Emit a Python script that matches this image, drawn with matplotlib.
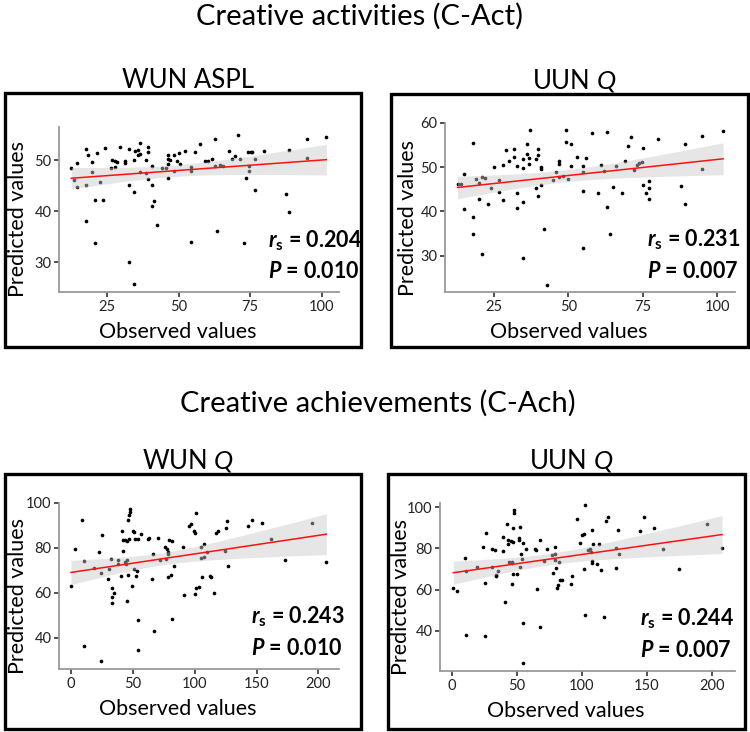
import numpy as np
import matplotlib
matplotlib.use('Agg')
import matplotlib.pyplot as plt
from matplotlib.patches import Rectangle

plt.rcParams['font.family'] = ['Lato', 'DejaVu Sans']
plt.rcParams['mathtext.fontset'] = 'custom'
plt.rcParams['mathtext.rm'] = 'Lato'
plt.rcParams['mathtext.it'] = 'Lato:italic'
plt.rcParams['mathtext.bf'] = 'Lato:bold'
plt.rcParams['mathtext.bfit'] = 'Lato:italic:bold'

# ---- data ----
# Creative activities, WUN ASPL
act_wun_x = [12.6, 13.6, 14.7, 14.7, 17.6, 18.5, 19.7, 19.7, 17.6, 17.6, 20.7, 20.7, 21.6, 22.6, 23.6,
             24.5, 26.5, 26.7, 27.7, 28.5, 27.7, 29.7, 31.5, 31.5, 32.6, 32.6, 32.6, 34.4, 34.4, 34.4,
             34.7, 35.8, 35.8, 36.7, 36.7, 36.7, 38.7, 38.5, 39.5, 39.5, 39.5, 40.6, 40.6, 40.6, 41.4,
             42.6, 44.4, 45.5, 46.5, 46.5, 46.5, 46.5, 47.2, 48.4, 48.5, 49.4, 50.3, 50.6, 52.3, 54.5,
             54.5, 54.5, 55.6, 57.4, 59.3, 60.2, 61.6, 62.6, 62.6, 63.5, 64.4, 65.5, 67.6, 68.7, 69.7,
             70.6, 71.6, 72.7, 73.6, 74.4, 75.2, 75.8, 74.7, 74.7, 76.6, 76.6, 79.7, 87.6, 88.6, 88.6,
             94.7, 94.7, 101.6]
act_wun_y = [48.5, 46.1, 49.5, 44.7, 52.2, 51.1, 49.7, 47.7, 45.2, 38.1, 42.2, 33.8, 51.5, 45.8, 42.2,
             52.4, 48.4, 50.0, 49.8, 49.7, 48.7, 52.6, 49.8, 49.5, 52.2, 45.2, 30.1, 50.0, 43.8, 25.7,
             51.8, 51.9, 51.0, 53.3, 51.2, 47.7, 50.1, 47.5, 52.6, 51.6, 46.4, 48.8, 45.1, 41.1, 42.1,
             37.4, 48.4, 48.5, 51.1, 50.3, 49.3, 46.5, 50.0, 51.1, 47.9, 49.8, 51.4, 49.2, 51.8, 48.6,
             47.9, 33.9, 51.6, 53.2, 49.9, 49.8, 50.3, 54.2, 48.8, 36.1, 49.0, 48.8, 51.8, 50.2, 50.8,
             55.0, 50.3, 33.8, 46.6, 51.6, 51.6, 51.6, 48.8, 47.9, 50.3, 44.1, 51.8, 43.3, 52.0, 39.8,
             54.2, 50.5, 54.6]

# Creative activities, UUN Q
act_uun_x = [12.8, 13.9, 15.0, 15.0, 18.1, 18.1, 18.1, 19.1, 20.1, 20.1, 21.1, 22.0, 21.1, 23.1, 24.0,
             25.0, 26.9, 26.9, 28.0, 28.0, 29.0, 30.0, 31.9, 31.9, 32.9, 32.9, 32.9, 34.9, 34.9, 34.9,
             34.9, 36.0, 36.0, 36.9, 36.9, 37.1, 39.0, 39.0, 39.9, 39.9, 40.0, 40.9, 40.9, 40.9, 41.9,
             43.0, 45.0, 46.0, 46.9, 46.9, 46.9, 48.1, 49.1, 49.1, 50.0, 51.0, 51.0, 53.0, 55.0, 55.0,
             55.0, 55.0, 56.0, 57.9, 59.9, 60.9, 61.9, 62.9, 62.9, 63.9, 64.9, 66.0, 68.0, 69.0, 70.0,
             71.0, 72.0, 73.0, 73.9, 74.8, 75.1, 75.1, 76.1, 77.1, 77.1, 77.1, 80.1, 88.0, 89.1, 89.1,
             95.0, 95.0, 102.0]
act_uun_y = [46.2, 46.2, 48.4, 40.6, 55.5, 38.8, 34.8, 47.4, 46.4, 42.8, 47.9, 47.5, 30.4, 41.6, 45.2,
             50.0, 47.2, 44.5, 50.6, 42.5, 54.0, 51.5, 54.2, 52.4, 50.2, 44.1, 40.8, 49.8, 51.9, 42.2,
             29.4, 55.3, 52.9, 52.1, 50.7, 58.5, 51.9, 45.2, 54.2, 52.8, 43.4, 50.0, 49.7, 46.0, 36.0,
             23.3, 47.2, 49.0, 51.5, 50.8, 47.8, 48.1, 58.5, 55.6, 47.3, 55.2, 50.2, 52.3, 50.2, 48.9,
             44.7, 31.7, 52.1, 57.7, 44.1, 50.6, 49.2, 58.0, 41.1, 34.9, 45.5, 50.3, 44.1, 51.5, 54.7,
             56.8, 49.3, 50.6, 50.9, 51.2, 54.4, 45.9, 44.1, 46.8, 45.4, 42.8, 56.4, 45.8, 55.2, 41.7,
             57.0, 49.6, 58.3]

# Creative achievements, WUN Q
ach_wun_x = [0.0, 3.2, 9.2, 10.2, 10.2, 18.3, 22.9, 24.3, 24.3, 25.3, 29.9, 30.5, 32.3, 33.2, 33.2,
             33.4, 34.5, 38.3, 38.3, 40.2, 41.2, 42.0, 42.3, 43.4, 43.9, 44.5, 45.0, 45.0, 45.3, 45.8,
             46.4, 46.9, 47.4, 47.4, 46.9, 49.3, 49.9, 51.2, 51.5, 51.2, 52.3, 53.1, 54.2, 54.2, 54.2,
             56.3, 62.5, 63.3, 65.2, 66.3, 67.1, 70.4, 72.2, 75.7, 77.1, 77.6, 78.2, 78.4, 78.7, 79.5,
             80.6, 81.4, 81.4, 83.0, 90.3, 91.1, 95.1, 97.0, 99.2, 100.3, 100.3, 101.3, 101.3, 103.2, 105.1,
             105.1, 106.2, 107.3, 107.5, 110.2, 112.7, 113.5, 115.4, 117.0, 118.9, 125.1, 126.1, 124.8, 127.2, 143.1,
             146.4, 154.4, 161.5, 173.0, 195.1, 206.5]
ach_wun_y = [62.9, 79.6, 92.3, 74.1, 36.3, 71.1, 78.1, 68.9, 29.7, 85.7, 66.0, 70.7, 75.0, 62.0, 57.9,
             55.5, 59.8, 74.4, 73.0, 67.5, 87.3, 78.7, 83.6, 73.5, 83.3, 72.9, 74.7, 82.9, 56.4, 92.3,
             67.7, 94.5, 97.5, 96.1, 84.1, 62.9, 87.6, 87.0, 84.1, 70.7, 67.5, 69.9, 84.1, 47.9, 34.5,
             86.3, 84.1, 84.5, 66.2, 77.2, 43.0, 84.4, 74.4, 80.6, 75.1, 79.6, 78.3, 77.2, 67.1, 83.6,
             68.0, 82.9, 48.3, 71.9, 80.6, 59.2, 89.6, 90.8, 87.3, 86.6, 59.3, 95.5, 62.2, 62.5, 80.3,
             75.4, 66.9, 81.8, 75.9, 78.1, 67.5, 66.9, 59.8, 86.7, 87.6, 89.0, 91.8, 78.6, 72.0, 89.6,
             92.3, 91.1, 84.1, 74.7, 90.9, 73.9]

# Creative achievements, UUN Q
ach_uun_x = [1.0, 4.1, 10.0, 11.1, 11.1, 19.0, 24.2, 25.2, 25.2, 26.2, 31.1, 31.1, 33.2, 34.2, 34.2,
             35.2, 39.1, 39.1, 41.1, 42.2, 43.2, 43.2, 44.2, 45.8, 45.2, 46.0, 46.3, 47.0, 47.0, 47.0,
             48.1, 48.1, 50.1, 51.2, 51.9, 52.2, 52.2, 53.0, 54.0, 55.0, 55.0, 55.0, 57.1, 63.8, 65.0,
             65.8, 67.4, 68.1, 71.0, 73.5, 77.1, 78.1, 79.2, 79.2, 79.2, 79.7, 80.5, 82.0, 82.3, 83.0,
             84.6, 91.3, 92.5, 96.4, 98.2, 100.0, 101.3, 101.5, 102.6, 102.6, 104.4, 105.9, 106.9, 107.5, 107.5,
             108.2, 108.7, 111.3, 113.1, 114.4, 116.7, 118.3, 120.3, 126.0, 126.2, 127.5, 128.5, 144.7, 147.8, 155.5,
             162.5, 174.6, 196.7, 208.0]
ach_uun_y = [60.8, 59.2, 75.5, 69.0, 38.2, 71.1, 80.6, 63.4, 37.6, 87.4, 79.5, 70.8, 79.0, 66.9, 66.5,
             69.2, 78.7, 85.5, 54.0, 91.9, 83.9, 81.9, 73.4, 72.9, 83.5, 62.9, 73.4, 67.7, 89.8, 83.1,
             98.4, 97.1, 67.7, 85.2, 83.9, 90.3, 71.0, 77.4, 75.0, 82.6, 44.0, 24.2, 79.8, 79.8, 79.4,
             60.2, 84.2, 41.9, 73.9, 79.5, 76.6, 68.1, 80.6, 77.4, 74.5, 70.6, 61.0, 62.1, 73.2, 64.5,
             64.5, 62.9, 66.5, 94.4, 82.6, 86.6, 87.1, 69.8, 101.1, 47.6, 79.0, 79.5, 78.1, 74.0, 72.9,
             89.0, 81.9, 72.3, 81.9, 69.4, 46.8, 93.5, 95.2, 80.3, 70.5, 88.7, 77.4, 88.4, 95.2, 90.0,
             79.7, 69.8, 91.6, 80.2]

group_titles = ['Creative activities (C-Act)', 'Creative achievements (C-Ach)']
panel_titles = ['WUN ASPL', r'UUN $\mathit{Q}$', r'WUN $\mathit{Q}$', r'UUN $\mathit{Q}$']
rs_values = ['0.204', '0.231', '0.243', '0.244']
p_values = ['0.010', '0.007', '0.010', '0.007']

W, H = 750, 732
fig = plt.figure(figsize=(W / 100, H / 100), dpi=100)


def px_rect(x0, y0, x1, y1):
    # pixel box (top-left origin) -> figure fraction [l, b, w, h]
    return [x0 / W, 1 - y1 / H, (x1 - x0) / W, (y1 - y0) / H]


def panel(axbox, frame, xs, ys, xlim, ylim, xticks, yticks, title, rs, p, txt_x, ylab_x):
    fx0, fy0, fx1, fy1 = frame
    fig.patches.append(Rectangle((fx0 / W, 1 - fy1 / H), (fx1 - fx0) / W, (fy1 - fy0) / H,
                                 transform=fig.transFigure, fill=False, ec='black', lw=2.4))
    fig.text(((fx0 + fx1) / 2 + 5) / W, 1 - (fy0 - 5) / H, title, ha='center', va='baseline',
             fontsize=18.5, color='black')

    ax = fig.add_axes(px_rect(*axbox))
    x = np.array(xs)
    y = np.array(ys)
    ax.scatter(x, y, s=7, color='black', lw=0, zorder=2)

    # OLS fit with 95% confidence band
    b, a = np.polyfit(x, y, 1)
    n = len(x)
    xx = np.linspace(x.min(), x.max(), 100)
    yy = a + b * xx
    resid = y - (a + b * x)
    s = np.sqrt(np.sum(resid ** 2) / (n - 2))
    se = s * np.sqrt(1 / n + (xx - x.mean()) ** 2 / np.sum((x - x.mean()) ** 2))
    ax.fill_between(xx, yy - 1.985 * se, yy + 1.985 * se, color='#c8c8c8', alpha=0.45, lw=0, zorder=3)
    ax.plot(xx, yy, color='#ff1010', lw=1.1, zorder=4)

    ax.set_xlim(*xlim)
    ax.set_ylim(*ylim)
    ax.set_xticks(xticks)
    ax.set_yticks(yticks)
    for side in ['top', 'right']:
        ax.spines[side].set_visible(False)
    for side in ['left', 'bottom']:
        ax.spines[side].set_color('#9a9a9a')
        ax.spines[side].set_linewidth(1.3)
    ax.tick_params(length=3.5, width=1.2, color='#333333', labelsize=10.5, labelcolor='#222222', pad=2)
    ax.set_xlabel('Observed values', fontsize=15.5, color='black')
    ax.set_ylabel('Predicted values', fontsize=15.5, color='black')
    ax.xaxis.set_label_coords(0.425, -0.18)
    ax.yaxis.set_label_coords(ylab_x, 0.44)

    ax.text(txt_x, 0.27, r'$\mathbfit{r}_\mathbf{s}$ = ' + rs, transform=ax.transAxes,
            fontsize=15.5, fontweight='bold', ha='left', va='baseline')
    ax.text(txt_x, 0.085, r'$\mathbfit{P}$ = ' + p, transform=ax.transAxes,
            fontsize=15.5, fontweight='bold', ha='left', va='baseline')
    return ax


panel((59, 127, 339, 292), (5, 93, 361, 347), act_wun_x, act_wun_y, (8.3, 106), (24.2, 56.5),
      [25, 50, 75, 100], [30, 40, 50], panel_titles[0], rs_values[0], p_values[0], 0.745, -0.11)
panel((445, 123, 735, 292), (391, 94, 748, 347), act_uun_x, act_uun_y, (8.6, 106), (21.8, 60.0),
      [25, 50, 75, 100], [30, 40, 50, 60], panel_titles[1], rs_values[1], p_values[1], 0.695, -0.093)
panel((59, 503, 339, 669), (5, 474, 361, 729), ach_wun_x, ach_wun_y, (-9.7, 216.7), (26, 100),
      [0, 50, 100, 150, 200], [40, 60, 80, 100], panel_titles[2], rs_values[2], p_values[2], 0.685, -0.11)
panel((440, 503, 735, 671), (388, 474, 745, 729), ach_uun_x, ach_uun_y, (-9.3, 218), (20.5, 102),
      [0, 50, 100, 150, 200], [40, 60, 80, 100], panel_titles[3], rs_values[3], p_values[3], 0.678, -0.097)

fig.text(360 / W, 1 - 25 / H, group_titles[0], ha='center', va='baseline', fontsize=21)
fig.text(378 / W, 1 - 412 / H, group_titles[1], ha='center', va='baseline', fontsize=21)

fig.savefig('out.png', dpi=100)
